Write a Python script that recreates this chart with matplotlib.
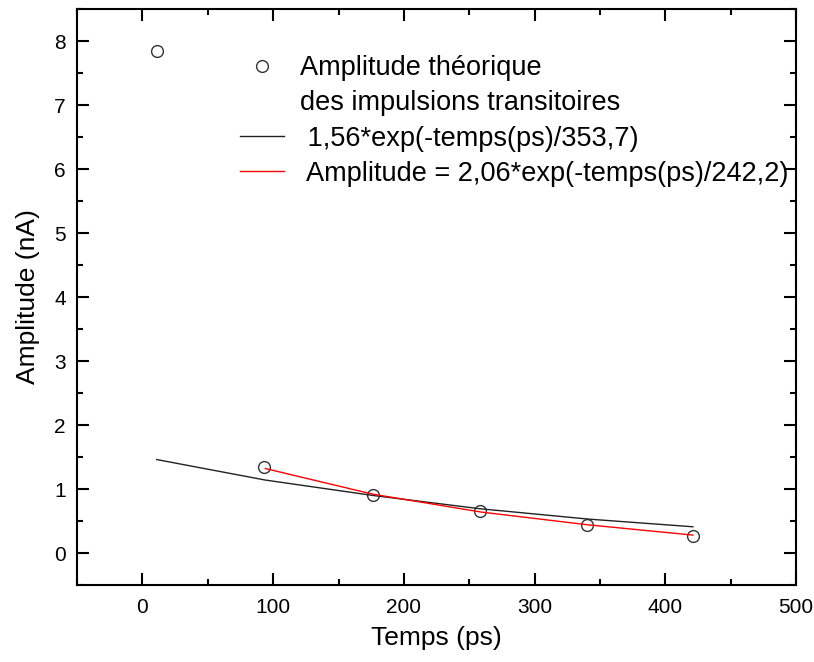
import matplotlib.pyplot as plt
from matplotlib.lines import Line2D
from matplotlib.ticker import MultipleLocator

plt.rcParams['font.family'] = ['Liberation Sans', 'DejaVu Sans']

# measured amplitudes
temps = [11, 93, 176, 258, 340, 421]
amplitude = [7.84, 1.34, 0.91, 0.65, 0.44, 0.27]

# fit curves
fit1_t = [11, 94, 176, 259, 341, 421]
fit1_a = [1.46, 1.14, 0.90, 0.69, 0.53, 0.41]
fit2_t = [94, 176, 259, 341, 421]
fit2_a = [1.32, 0.92, 0.64, 0.44, 0.28]

fig = plt.figure(figsize=(8.14, 6.62), dpi=100)
ax = fig.add_axes([0.0946, 0.1163, 0.8835, 0.8701])

ax.plot(temps, amplitude, 'o', mfc='none', mec='#333333', ms=8.5, mew=1.0)
ax.plot(fit1_t, fit1_a, color='#222222', lw=1.0)
ax.plot(fit2_t, fit2_a, color='red', lw=1.0)

ax.set_xlim(-50, 500)
ax.set_ylim(-0.5, 8.5)
ax.xaxis.set_major_locator(MultipleLocator(100))
ax.xaxis.set_minor_locator(MultipleLocator(50))
ax.yaxis.set_major_locator(MultipleLocator(1))
ax.yaxis.set_minor_locator(MultipleLocator(0.5))
ax.tick_params(which='both', direction='in', top=True, right=True, width=1.5,
               labelsize=15)
ax.tick_params(which='major', length=8.5)
ax.tick_params(which='minor', length=4.3)
ax.tick_params(axis='x', pad=9)
ax.tick_params(axis='y', pad=8)
for s in ax.spines.values():
    s.set_linewidth(1.5)

ax.set_xlabel('Temps (ps)', fontsize=19, labelpad=7)
ax.set_ylabel('Amplitude (nA)', fontsize=19, labelpad=10)

handles = [
    Line2D([], [], ls='none', marker='o', mfc='none', mec='#333333', ms=8.5, mew=1.0),
    Line2D([], [], ls='none'),
    Line2D([], [], color='#222222', lw=1.0),
    Line2D([], [], color='red', lw=1.0),
]
labels = ['Amplitude théorique', 'des impulsions transitoires',
          ' 1,56*exp(-temps(ps)/353,7)', ' Amplitude = 2,06*exp(-temps(ps)/242,2)']
ax.legend(handles, labels, loc='upper left', bbox_to_anchor=(0.227, 0.92),
          frameon=False, fontsize=19.5, borderpad=0, borderaxespad=0,
          handlelength=1.6, handletextpad=0.6, labelspacing=0.34)

fig.savefig('out.png', dpi=100)
